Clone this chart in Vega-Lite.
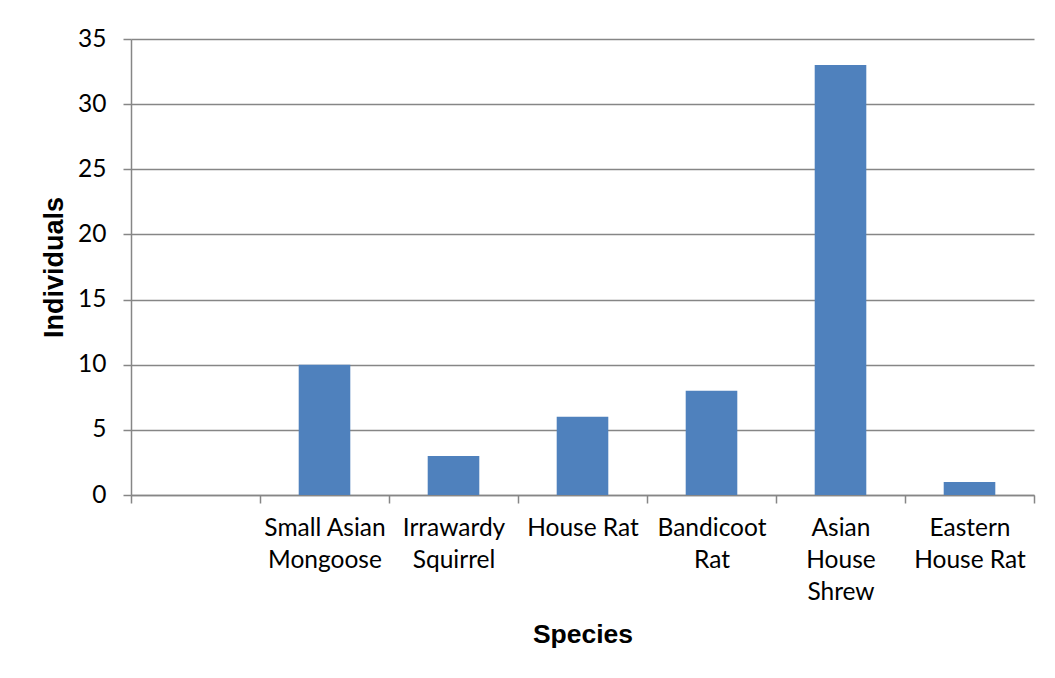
{
  "$schema": "https://vega.github.io/schema/vega-lite/v6.json",
  "width": 903,
  "height": 456,
  "autosize": "none",
  "padding": {"left": 131, "top": 39, "right": 21, "bottom": 183},
  "background": "white",
  "data": {
    "values": [
      {"species": "", "individuals": 0},
      {"species": "Small Asian|Mongoose", "individuals": 10},
      {"species": "Irrawardy|Squirrel", "individuals": 3},
      {"species": "House Rat", "individuals": 6},
      {"species": "Bandicoot|Rat", "individuals": 8},
      {"species": "Asian|House|Shrew", "individuals": 33},
      {"species": "Eastern|House Rat", "individuals": 1}
    ]
  },
  "mark": {"type": "bar", "color": "#4F81BD", "width": {"band": 0.4}},
  "encoding": {
    "x": {
      "field": "species",
      "type": "nominal",
      "sort": null,
      "scale": {"paddingInner": 0, "paddingOuter": 0},
      "axis": {
        "title": "Species",
        "labelAngle": 0,
        "labelExpr": "split(datum.label, '|')",
        "labelFont": "Lato",
        "labelFontSize": 24.5,
        "labelColor": "black",
        "labelLineHeight": 32,
        "labelPadding": 13,
        "labelLimit": 0,
        "tickBand": "extent",
        "tickSize": 8,
        "tickColor": "#868686",
        "tickWidth": 1.5,
        "domainColor": "#868686",
        "domainWidth": 1.5,
        "grid": false,
        "titleFont": "Liberation Sans",
        "titleFontSize": 26.5,
        "titleFontWeight": "bold",
        "titleColor": "black",
        "titlePadding": 18
      }
    },
    "y": {
      "field": "individuals",
      "type": "quantitative",
      "scale": {"domain": [0, 35]},
      "axis": {
        "title": "Individuals",
        "values": [0, 5, 10, 15, 20, 25, 30, 35],
        "labelFont": "Lato",
        "labelFontSize": 24.5,
        "labelColor": "black",
        "labelPadding": 17,
        "tickSize": 8,
        "tickColor": "#868686",
        "tickWidth": 1.5,
        "domainColor": "#868686",
        "domainWidth": 1.5,
        "grid": true,
        "gridColor": "#868686",
        "gridWidth": 1.3,
        "titleFont": "Liberation Sans",
        "titleFontSize": 27,
        "titleFontWeight": "bold",
        "titleColor": "black",
        "titlePadding": 9
      }
    }
  },
  "config": {"view": {"stroke": null}}
}
